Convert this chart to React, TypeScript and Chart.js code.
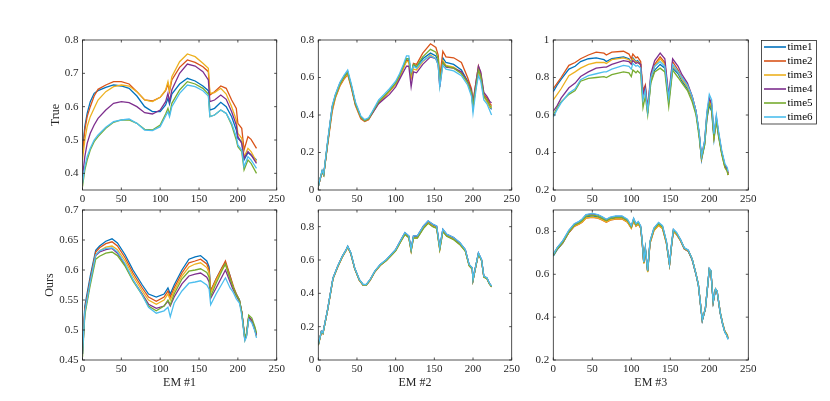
import { useEffect, useRef } from 'react';
import Chart from 'chart.js/auto';

// legend names and MATLAB default line colours
const seriesNames = ['time1', 'time2', 'time3', 'time4', 'time5', 'time6'];
const seriesColors = ['#0072BD', '#D95319', '#EDB120', '#7E2F8E', '#77AC30', '#4DBEEE'];

const xTicks = [0, 50, 100, 150, 200, 250];

// ---- EM #1, True ----
const em1TrueBands = [0, 3, 6, 10, 15, 20, 30, 40, 50, 60, 70, 80, 90, 100, 107, 110, 112, 115, 125, 135, 145, 155, 162, 164, 170, 178, 185, 192, 198, 200, 205, 208, 213, 217, 224];
const em1TrueT1 = [0.47, 0.54, 0.58, 0.615, 0.64, 0.648, 0.658, 0.665, 0.662, 0.655, 0.632, 0.6, 0.585, 0.585, 0.605, 0.625, 0.608, 0.638, 0.668, 0.685, 0.677, 0.662, 0.648, 0.59, 0.595, 0.613, 0.6, 0.57, 0.53, 0.505, 0.495, 0.44, 0.462, 0.455, 0.44];
const em1TrueT2 = [0.46, 0.53, 0.57, 0.6, 0.632, 0.652, 0.665, 0.675, 0.675, 0.668, 0.645, 0.62, 0.617, 0.628, 0.648, 0.668, 0.645, 0.68, 0.718, 0.74, 0.733, 0.72, 0.705, 0.635, 0.645, 0.662, 0.655, 0.62, 0.595, 0.55, 0.535, 0.47, 0.51, 0.502, 0.475];
const em1TrueT3 = [0.44, 0.5, 0.54, 0.57, 0.595, 0.62, 0.645, 0.66, 0.665, 0.662, 0.645, 0.62, 0.615, 0.628, 0.65, 0.675, 0.65, 0.69, 0.735, 0.758, 0.75, 0.73, 0.715, 0.64, 0.642, 0.655, 0.638, 0.6, 0.56, 0.52, 0.505, 0.45, 0.475, 0.465, 0.435];
const em1TrueT4 = [0.39, 0.45, 0.49, 0.52, 0.545, 0.565, 0.59, 0.61, 0.615, 0.612, 0.6, 0.582, 0.578, 0.59, 0.615, 0.64, 0.615, 0.65, 0.7, 0.728, 0.722, 0.705, 0.68, 0.615, 0.62, 0.635, 0.622, 0.585, 0.545, 0.51, 0.49, 0.445, 0.465, 0.455, 0.43];
const em1TrueT5 = [0.36, 0.41, 0.44, 0.47, 0.495, 0.51, 0.535, 0.553, 0.56, 0.56, 0.55, 0.532, 0.53, 0.545, 0.578, 0.595, 0.575, 0.61, 0.65, 0.675, 0.668, 0.655, 0.638, 0.57, 0.575, 0.59, 0.58, 0.545, 0.5, 0.48, 0.465, 0.41, 0.44, 0.43, 0.4];
const em1TrueT6 = [0.37, 0.42, 0.45, 0.475, 0.5, 0.515, 0.538, 0.555, 0.56, 0.563, 0.55, 0.53, 0.528, 0.54, 0.572, 0.585, 0.57, 0.6, 0.64, 0.665, 0.66, 0.648, 0.632, 0.57, 0.575, 0.59, 0.58, 0.55, 0.51, 0.485, 0.47, 0.42, 0.45, 0.44, 0.415];
const em1TrueTicks = [0.4, 0.5, 0.6, 0.7, 0.8];

// ---- EM #2, True ----
const em2TrueBands = [0, 3, 5, 7, 12, 18, 22, 28, 33, 38, 43, 48, 55, 60, 65, 70, 78, 85, 92, 100, 105, 110, 114, 117, 120, 123, 127, 135, 145, 152, 155, 157, 161, 165, 175, 185, 193, 198, 200, 204, 207, 210, 214, 218, 222, 224];
const em2TrueT1 = [0.02, 0.07, 0.1, 0.08, 0.25, 0.44, 0.5, 0.565, 0.6, 0.628, 0.55, 0.46, 0.39, 0.37, 0.38, 0.415, 0.47, 0.5, 0.53, 0.57, 0.61, 0.66, 0.7, 0.7, 0.61, 0.67, 0.655, 0.7, 0.73, 0.715, 0.68, 0.57, 0.705, 0.68, 0.67, 0.64, 0.58, 0.52, 0.44, 0.56, 0.63, 0.6, 0.5, 0.475, 0.44, 0.43];
const em2TrueT2 = [0.02, 0.065, 0.095, 0.08, 0.24, 0.42, 0.49, 0.555, 0.59, 0.615, 0.54, 0.45, 0.38, 0.365, 0.375, 0.41, 0.465, 0.495, 0.525, 0.565, 0.6, 0.65, 0.69, 0.69, 0.6, 0.675, 0.67, 0.73, 0.78, 0.76, 0.72, 0.6, 0.74, 0.71, 0.705, 0.68, 0.6, 0.54, 0.47, 0.58, 0.66, 0.62, 0.51, 0.49, 0.46, 0.45];
const em2TrueT3 = [0.02, 0.068, 0.1, 0.08, 0.245, 0.43, 0.495, 0.56, 0.595, 0.62, 0.545, 0.455, 0.385, 0.368, 0.378, 0.412, 0.468, 0.498, 0.528, 0.565, 0.6, 0.65, 0.685, 0.685, 0.6, 0.645, 0.64, 0.685, 0.72, 0.7, 0.67, 0.56, 0.69, 0.665, 0.655, 0.625, 0.57, 0.51, 0.44, 0.55, 0.63, 0.6, 0.5, 0.47, 0.44, 0.44];
const em2TrueT4 = [0.02, 0.07, 0.1, 0.085, 0.25, 0.445, 0.505, 0.57, 0.605, 0.63, 0.55, 0.46, 0.39, 0.37, 0.38, 0.41, 0.46, 0.485, 0.51, 0.55, 0.59, 0.63, 0.66, 0.66, 0.55, 0.63, 0.625, 0.67, 0.71, 0.7, 0.67, 0.55, 0.68, 0.655, 0.65, 0.63, 0.58, 0.53, 0.46, 0.58, 0.66, 0.63, 0.52, 0.5, 0.47, 0.465];
const em2TrueT5 = [0.02, 0.07, 0.1, 0.08, 0.25, 0.44, 0.5, 0.565, 0.6, 0.628, 0.55, 0.46, 0.39, 0.37, 0.38, 0.415, 0.47, 0.5, 0.53, 0.57, 0.61, 0.66, 0.7, 0.7, 0.62, 0.67, 0.66, 0.71, 0.75, 0.735, 0.7, 0.58, 0.68, 0.66, 0.65, 0.62, 0.575, 0.52, 0.45, 0.56, 0.64, 0.61, 0.5, 0.48, 0.45, 0.44];
const em2TrueT6 = [0.02, 0.072, 0.105, 0.085, 0.26, 0.45, 0.51, 0.575, 0.61, 0.64, 0.56, 0.47, 0.395, 0.375, 0.385, 0.42, 0.48, 0.51, 0.54, 0.58, 0.62, 0.67, 0.715, 0.715, 0.63, 0.66, 0.65, 0.69, 0.715, 0.7, 0.665, 0.55, 0.665, 0.645, 0.635, 0.61, 0.56, 0.5, 0.41, 0.54, 0.61, 0.58, 0.48, 0.46, 0.42, 0.4];
const em2TrueTicks = [0, 0.2, 0.4, 0.6, 0.8];

// ---- EM #3, True ----
const em3TrueBands = [0, 5, 10, 20, 28, 35, 45, 55, 65, 68, 75, 90, 97, 100, 102, 106, 108, 112, 115, 118, 121, 125, 130, 137, 143, 148, 153, 160, 165, 172, 178, 183, 187, 190, 194, 197, 200, 203, 206, 209, 212, 216, 220, 223, 224];
const em3TrueT1 = [0.725, 0.76, 0.79, 0.845, 0.86, 0.885, 0.9, 0.905, 0.895, 0.885, 0.9, 0.91, 0.9, 0.88, 0.905, 0.885, 0.89, 0.87, 0.71, 0.74, 0.61, 0.78, 0.84, 0.87, 0.85, 0.67, 0.85, 0.82, 0.78, 0.74, 0.69, 0.61, 0.5, 0.36, 0.44, 0.58, 0.65, 0.62, 0.47, 0.57, 0.49, 0.4, 0.33, 0.31, 0.28];
const em3TrueT2 = [0.74, 0.77, 0.8, 0.865, 0.88, 0.9, 0.92, 0.935, 0.93, 0.92, 0.935, 0.94, 0.925, 0.9, 0.925, 0.905, 0.91, 0.885, 0.73, 0.76, 0.63, 0.8, 0.87, 0.91, 0.88, 0.69, 0.885, 0.84, 0.8, 0.76, 0.7, 0.62, 0.5, 0.37, 0.45, 0.6, 0.68, 0.65, 0.49, 0.58, 0.5, 0.4, 0.33, 0.31, 0.28];
const em3TrueT3 = [0.68, 0.71, 0.74, 0.81, 0.83, 0.85, 0.87, 0.88, 0.88, 0.875, 0.895, 0.905, 0.895, 0.875, 0.9, 0.88, 0.885, 0.865, 0.7, 0.74, 0.61, 0.79, 0.86, 0.9, 0.87, 0.68, 0.86, 0.83, 0.79, 0.75, 0.69, 0.61, 0.5, 0.37, 0.45, 0.6, 0.67, 0.64, 0.48, 0.57, 0.49, 0.39, 0.32, 0.3, 0.28];
const em3TrueT4 = [0.62, 0.65, 0.69, 0.745, 0.77, 0.805, 0.83, 0.85, 0.855, 0.855, 0.87, 0.89, 0.885, 0.87, 0.89, 0.875, 0.88, 0.87, 0.71, 0.75, 0.63, 0.82, 0.89, 0.93, 0.9, 0.7, 0.9, 0.86, 0.815, 0.77, 0.7, 0.62, 0.5, 0.38, 0.46, 0.61, 0.69, 0.66, 0.49, 0.59, 0.5, 0.4, 0.33, 0.31, 0.29];
const em3TrueT5 = [0.6, 0.64, 0.67, 0.71, 0.73, 0.78, 0.795, 0.8, 0.805, 0.8, 0.815, 0.83, 0.825, 0.805, 0.84, 0.825, 0.835, 0.82, 0.64, 0.7, 0.6, 0.77, 0.83, 0.85, 0.83, 0.645, 0.84, 0.8, 0.77, 0.73, 0.67, 0.6, 0.48, 0.37, 0.44, 0.59, 0.66, 0.63, 0.48, 0.57, 0.48, 0.39, 0.32, 0.3, 0.28];
const em3TrueT6 = [0.59, 0.63, 0.665, 0.717, 0.74, 0.788, 0.81, 0.82, 0.83, 0.83, 0.845, 0.865, 0.86, 0.845, 0.875, 0.86, 0.865, 0.85, 0.68, 0.73, 0.62, 0.8, 0.86, 0.885, 0.86, 0.69, 0.87, 0.83, 0.8, 0.76, 0.7, 0.62, 0.51, 0.38, 0.46, 0.62, 0.71, 0.68, 0.5, 0.6, 0.51, 0.41, 0.34, 0.32, 0.3];
const em3TrueTicks = [0.2, 0.4, 0.6, 0.8, 1];

// ---- EM #1, Ours ----
const em1OursBands = [0, 3, 10, 17, 22, 30, 38, 45, 55, 65, 77, 85, 95, 105, 110, 113, 118, 128, 137, 145, 152, 160, 163, 165, 172, 180, 184, 190, 193, 195, 198, 202, 205, 209, 211, 214, 218, 222, 224];
const em1OursT1 = [0.47, 0.54, 0.59, 0.633, 0.64, 0.648, 0.652, 0.645, 0.625, 0.6, 0.575, 0.56, 0.555, 0.56, 0.57, 0.56, 0.575, 0.6, 0.618, 0.622, 0.624, 0.615, 0.605, 0.565, 0.585, 0.605, 0.612, 0.59, 0.575, 0.568, 0.56, 0.55, 0.53, 0.484, 0.49, 0.522, 0.515, 0.5, 0.49];
const em1OursT2 = [0.465, 0.535, 0.585, 0.63, 0.637, 0.644, 0.647, 0.64, 0.62, 0.595, 0.57, 0.555, 0.548, 0.555, 0.565, 0.555, 0.57, 0.595, 0.612, 0.615, 0.618, 0.61, 0.6, 0.565, 0.585, 0.605, 0.615, 0.59, 0.578, 0.57, 0.56, 0.55, 0.53, 0.485, 0.49, 0.52, 0.514, 0.5, 0.49];
const em1OursT3 = [0.46, 0.53, 0.58, 0.625, 0.632, 0.638, 0.64, 0.634, 0.615, 0.59, 0.565, 0.55, 0.543, 0.55, 0.56, 0.55, 0.565, 0.59, 0.605, 0.61, 0.612, 0.604, 0.595, 0.562, 0.583, 0.602, 0.61, 0.585, 0.575, 0.565, 0.557, 0.548, 0.528, 0.483, 0.49, 0.52, 0.515, 0.5, 0.49];
const em1OursT4 = [0.46, 0.53, 0.58, 0.624, 0.63, 0.634, 0.636, 0.628, 0.608, 0.583, 0.56, 0.543, 0.536, 0.54, 0.548, 0.54, 0.555, 0.577, 0.59, 0.593, 0.595, 0.588, 0.58, 0.553, 0.57, 0.59, 0.6, 0.58, 0.57, 0.565, 0.557, 0.548, 0.53, 0.486, 0.492, 0.522, 0.516, 0.502, 0.492];
const em1OursT5 = [0.455, 0.525, 0.575, 0.618, 0.623, 0.628, 0.63, 0.624, 0.606, 0.582, 0.558, 0.54, 0.532, 0.54, 0.55, 0.542, 0.56, 0.585, 0.598, 0.6, 0.602, 0.596, 0.588, 0.556, 0.578, 0.6, 0.61, 0.585, 0.575, 0.568, 0.558, 0.55, 0.53, 0.488, 0.494, 0.525, 0.52, 0.505, 0.495];
const em1OursT6 = [0.46, 0.53, 0.58, 0.625, 0.632, 0.636, 0.637, 0.63, 0.61, 0.584, 0.558, 0.538, 0.528, 0.532, 0.538, 0.522, 0.545, 0.565, 0.578, 0.58, 0.582, 0.575, 0.568, 0.542, 0.56, 0.578, 0.587, 0.57, 0.565, 0.56, 0.552, 0.545, 0.525, 0.482, 0.488, 0.518, 0.512, 0.498, 0.487];
const em1OursTicks = [0.45, 0.5, 0.55, 0.6, 0.65, 0.7];

// ---- EM #2, Ours ----
const em2OursBands = [0, 4, 6, 12, 19, 25, 31, 36, 38, 42, 47, 53, 58, 62, 67, 73, 80, 88, 96, 100, 107, 112, 117, 120, 123, 128, 136, 142, 148, 153, 157, 161, 166, 175, 183, 190, 195, 199, 200, 203, 207, 211, 214, 218, 221, 224];
const em2OursT1 = [0.09, 0.17, 0.16, 0.3, 0.49, 0.56, 0.62, 0.66, 0.68, 0.64, 0.55, 0.48, 0.45, 0.45, 0.48, 0.53, 0.57, 0.6, 0.64, 0.66, 0.72, 0.762, 0.742, 0.662, 0.742, 0.742, 0.802, 0.832, 0.812, 0.8, 0.672, 0.782, 0.752, 0.732, 0.702, 0.66, 0.57, 0.55, 0.48, 0.55, 0.64, 0.6, 0.5, 0.49, 0.46, 0.44];
const em2OursT2 = [0.09, 0.168, 0.158, 0.298, 0.487, 0.557, 0.617, 0.657, 0.677, 0.637, 0.548, 0.478, 0.448, 0.448, 0.478, 0.528, 0.567, 0.597, 0.636, 0.656, 0.715, 0.755, 0.735, 0.655, 0.733, 0.733, 0.792, 0.822, 0.802, 0.792, 0.664, 0.772, 0.744, 0.724, 0.694, 0.655, 0.566, 0.546, 0.478, 0.548, 0.636, 0.597, 0.498, 0.488, 0.458, 0.438];
const em2OursT3 = [0.088, 0.168, 0.158, 0.298, 0.488, 0.558, 0.618, 0.658, 0.678, 0.638, 0.549, 0.479, 0.449, 0.449, 0.479, 0.529, 0.568, 0.598, 0.637, 0.657, 0.716, 0.756, 0.736, 0.656, 0.735, 0.735, 0.794, 0.824, 0.804, 0.794, 0.666, 0.774, 0.745, 0.725, 0.695, 0.656, 0.567, 0.547, 0.479, 0.549, 0.637, 0.598, 0.499, 0.489, 0.459, 0.44];
const em2OursT4 = [0.092, 0.172, 0.162, 0.302, 0.492, 0.562, 0.622, 0.662, 0.682, 0.642, 0.552, 0.482, 0.452, 0.452, 0.482, 0.532, 0.572, 0.602, 0.642, 0.662, 0.722, 0.763, 0.743, 0.663, 0.744, 0.744, 0.804, 0.834, 0.814, 0.803, 0.674, 0.784, 0.754, 0.734, 0.703, 0.662, 0.572, 0.552, 0.482, 0.552, 0.642, 0.602, 0.502, 0.492, 0.462, 0.442];
const em2OursT5 = [0.09, 0.17, 0.16, 0.3, 0.49, 0.56, 0.62, 0.66, 0.68, 0.64, 0.55, 0.48, 0.45, 0.45, 0.48, 0.53, 0.568, 0.597, 0.636, 0.655, 0.714, 0.754, 0.734, 0.654, 0.732, 0.732, 0.79, 0.82, 0.8, 0.79, 0.662, 0.77, 0.742, 0.722, 0.692, 0.654, 0.566, 0.546, 0.478, 0.548, 0.636, 0.597, 0.498, 0.488, 0.458, 0.438];
const em2OursT6 = [0.092, 0.172, 0.162, 0.302, 0.492, 0.562, 0.622, 0.662, 0.683, 0.643, 0.553, 0.483, 0.453, 0.453, 0.483, 0.533, 0.573, 0.603, 0.643, 0.663, 0.723, 0.765, 0.745, 0.665, 0.745, 0.745, 0.805, 0.835, 0.815, 0.805, 0.675, 0.785, 0.755, 0.735, 0.705, 0.663, 0.573, 0.553, 0.483, 0.553, 0.643, 0.603, 0.503, 0.493, 0.463, 0.443];
const em2OursTicks = [0, 0.2, 0.4, 0.6, 0.8];

// ---- EM #3, Ours ----
const em3OursBands = [0, 5, 12, 20, 27, 33, 37, 42, 50, 57, 63, 68, 73, 80, 88, 95, 100, 103, 106, 109, 112, 114, 116, 118, 121, 124, 129, 135, 140, 145, 149, 152, 154, 158, 163, 168, 173, 178, 183, 186, 189, 191, 195, 198, 200, 202, 205, 208, 210, 214, 217, 220, 222, 224];
const em3OursT1 = [0.685, 0.715, 0.745, 0.795, 0.827, 0.838, 0.848, 0.868, 0.873, 0.868, 0.857, 0.847, 0.857, 0.862, 0.862, 0.847, 0.818, 0.852, 0.828, 0.838, 0.818, 0.748, 0.653, 0.718, 0.613, 0.748, 0.808, 0.833, 0.818, 0.748, 0.645, 0.748, 0.803, 0.788, 0.758, 0.718, 0.708, 0.668, 0.598, 0.548, 0.448, 0.383, 0.438, 0.548, 0.623, 0.613, 0.468, 0.528, 0.518, 0.418, 0.368, 0.328, 0.318, 0.298];
const em3OursT2 = [0.69, 0.718, 0.746, 0.795, 0.824, 0.834, 0.843, 0.862, 0.866, 0.862, 0.853, 0.843, 0.853, 0.858, 0.858, 0.843, 0.815, 0.848, 0.825, 0.835, 0.815, 0.745, 0.652, 0.716, 0.612, 0.745, 0.804, 0.828, 0.814, 0.745, 0.644, 0.746, 0.8, 0.786, 0.757, 0.718, 0.708, 0.669, 0.6, 0.55, 0.45, 0.386, 0.44, 0.55, 0.624, 0.614, 0.47, 0.53, 0.52, 0.421, 0.372, 0.332, 0.322, 0.305];
const em3OursT3 = [0.695, 0.722, 0.75, 0.798, 0.826, 0.835, 0.844, 0.863, 0.867, 0.863, 0.854, 0.844, 0.854, 0.859, 0.859, 0.844, 0.815, 0.849, 0.826, 0.836, 0.816, 0.746, 0.65, 0.716, 0.61, 0.745, 0.804, 0.828, 0.814, 0.745, 0.642, 0.746, 0.8, 0.787, 0.758, 0.72, 0.71, 0.671, 0.602, 0.552, 0.452, 0.388, 0.442, 0.552, 0.624, 0.614, 0.472, 0.532, 0.522, 0.424, 0.375, 0.335, 0.325, 0.31];
const em3OursT4 = [0.692, 0.723, 0.754, 0.804, 0.834, 0.845, 0.856, 0.877, 0.882, 0.877, 0.866, 0.855, 0.865, 0.87, 0.87, 0.855, 0.824, 0.86, 0.834, 0.844, 0.824, 0.753, 0.657, 0.723, 0.617, 0.753, 0.814, 0.84, 0.825, 0.753, 0.647, 0.753, 0.808, 0.793, 0.762, 0.722, 0.712, 0.671, 0.601, 0.551, 0.451, 0.386, 0.441, 0.551, 0.626, 0.616, 0.471, 0.531, 0.521, 0.421, 0.371, 0.331, 0.321, 0.301];
const em3OursT5 = [0.688, 0.718, 0.748, 0.798, 0.829, 0.84, 0.851, 0.871, 0.876, 0.871, 0.861, 0.851, 0.861, 0.866, 0.866, 0.851, 0.821, 0.856, 0.831, 0.841, 0.821, 0.751, 0.655, 0.721, 0.615, 0.751, 0.811, 0.836, 0.821, 0.751, 0.645, 0.751, 0.806, 0.791, 0.761, 0.721, 0.711, 0.671, 0.601, 0.551, 0.451, 0.386, 0.441, 0.551, 0.625, 0.615, 0.471, 0.531, 0.521, 0.421, 0.371, 0.331, 0.321, 0.303];
const em3OursT6 = [0.693, 0.724, 0.756, 0.806, 0.836, 0.847, 0.858, 0.879, 0.884, 0.879, 0.868, 0.857, 0.867, 0.872, 0.872, 0.857, 0.826, 0.862, 0.836, 0.846, 0.826, 0.755, 0.658, 0.725, 0.618, 0.755, 0.816, 0.842, 0.827, 0.755, 0.648, 0.755, 0.81, 0.795, 0.763, 0.723, 0.713, 0.672, 0.602, 0.552, 0.452, 0.387, 0.442, 0.552, 0.628, 0.618, 0.472, 0.532, 0.522, 0.422, 0.37, 0.329, 0.318, 0.296];
const em3OursTicks = [0.2, 0.4, 0.6, 0.8];

const W = 830;
const H = 401;
const INK = '#262626';
const FONT = '"Liberation Serif", "Times New Roman", serif';

// plot boxes in page pixels
const panels = [
  { bands: em1TrueBands, series: [em1TrueT1, em1TrueT2, em1TrueT3, em1TrueT4, em1TrueT5, em1TrueT6], ticks: em1TrueTicks, yMin: 0.35, yMax: 0.8, yTitle: 'True', xTitle: '', left: 82.5, top: 40, right: 276.7, bottom: 190, axisW: 34.2 },
  { bands: em2TrueBands, series: [em2TrueT1, em2TrueT2, em2TrueT3, em2TrueT4, em2TrueT5, em2TrueT6], ticks: em2TrueTicks, yMin: 0, yMax: 0.8, yTitle: '', xTitle: '', left: 318.3, top: 40, right: 511.7, bottom: 190, axisW: 40 },
  { bands: em3TrueBands, series: [em3TrueT1, em3TrueT2, em3TrueT3, em3TrueT4, em3TrueT5, em3TrueT6], ticks: em3TrueTicks, yMin: 0.2, yMax: 1, yTitle: '', xTitle: '', left: 553.3, top: 40, right: 748.3, bottom: 190, axisW: 40, legend: true },
  { bands: em1OursBands, series: [em1OursT1, em1OursT2, em1OursT3, em1OursT4, em1OursT5, em1OursT6], ticks: em1OursTicks, yMin: 0.45, yMax: 0.7, yTitle: 'Ours', xTitle: 'EM #1', left: 82.5, top: 210, right: 276.7, bottom: 360, axisW: 39.7 },
  { bands: em2OursBands, series: [em2OursT1, em2OursT2, em2OursT3, em2OursT4, em2OursT5, em2OursT6], ticks: em2OursTicks, yMin: 0, yMax: 0.9, yTitle: '', xTitle: 'EM #2', left: 318.3, top: 210, right: 511.7, bottom: 360, axisW: 40 },
  { bands: em3OursBands, series: [em3OursT1, em3OursT2, em3OursT3, em3OursT4, em3OursT5, em3OursT6], ticks: em3OursTicks, yMin: 0.2, yMax: 0.9, yTitle: '', xTitle: 'EM #3', left: 553.3, top: 210, right: 748.3, bottom: 360, axisW: 40 },
];

// MATLAB-style box with inward ticks on all four sides
const axesBox = {
  id: 'axesBox',
  afterDatasetsDraw(chart) {
    const { ctx, chartArea: a, scales } = chart;
    const tl = 2.5;
    ctx.save();
    ctx.strokeStyle = INK;
    ctx.lineWidth = 0.8;
    ctx.strokeRect(a.left, a.top, a.right - a.left, a.bottom - a.top);
    ctx.beginPath();
    scales.x.ticks.forEach((t) => {
      const px = scales.x.getPixelForValue(t.value);
      ctx.moveTo(px, a.bottom); ctx.lineTo(px, a.bottom - tl);
      ctx.moveTo(px, a.top); ctx.lineTo(px, a.top + tl);
    });
    scales.y.ticks.forEach((t) => {
      const py = scales.y.getPixelForValue(t.value);
      ctx.moveTo(a.left, py); ctx.lineTo(a.left + tl, py);
      ctx.moveTo(a.right, py); ctx.lineTo(a.right - tl, py);
    });
    ctx.stroke();
    ctx.restore();
  },
};

const legendBox = {
  id: 'legendBox',
  afterDraw(chart, args, opts) {
    if (!opts || !opts.show) return;
    const { ctx } = chart;
    const x0 = 761.5, y0 = 40.5, x1 = 816.5, y1 = 124;
    ctx.save();
    ctx.fillStyle = '#ffffff';
    ctx.fillRect(x0, y0, x1 - x0, y1 - y0);
    ctx.strokeStyle = INK;
    ctx.lineWidth = 0.8;
    ctx.strokeRect(x0, y0, x1 - x0, y1 - y0);
    ctx.font = `11px ${FONT}`;
    ctx.textBaseline = 'middle';
    ctx.textAlign = 'left';
    chart.data.datasets.forEach((ds, i) => {
      const cy = 47 + i * 14;
      ctx.strokeStyle = ds.borderColor;
      ctx.lineWidth = 1.6;
      ctx.beginPath();
      ctx.moveTo(764, cy);
      ctx.lineTo(786, cy);
      ctx.stroke();
      ctx.fillStyle = '#000000';
      ctx.fillText(ds.label, 787.5, cy + 0.5);
    });
    ctx.restore();
  },
};

function Panel({ p }) {
  const canvasRef = useRef(null);
  const chartRef = useRef(null);

  useEffect(() => {
    if (!canvasRef.current) return;
    if (chartRef.current) chartRef.current.destroy();
    const ctx = canvasRef.current.getContext('2d');
    const xAxisH = 30;

    chartRef.current = new Chart(ctx, {
      type: 'line',
      data: {
        datasets: p.series.map((vals, i) => ({
          label: seriesNames[i],
          data: p.bands.map((b, j) => ({ x: b, y: vals[j] })),
          borderColor: seriesColors[i],
          backgroundColor: seriesColors[i],
          borderWidth: 1.3,
          pointRadius: 0,
          tension: 0,
          fill: false,
          order: 6 - i,
        })),
      },
      options: {
        responsive: false,
        animation: false,
        events: [],
        layout: {
          padding: {
            left: p.left - p.axisW,
            top: p.top,
            right: W - p.right,
            bottom: H - p.bottom - xAxisH,
          },
        },
        plugins: {
          legend: { display: false },
          tooltip: { enabled: false },
          legendBox: { show: !!p.legend },
        },
        scales: {
          x: {
            type: 'linear',
            min: 0,
            max: 250,
            grid: { display: false, drawTicks: false },
            border: { display: false },
            afterBuildTicks: (s) => { s.ticks = xTicks.map((v) => ({ value: v })); },
            afterFit: (s) => { s.height = xAxisH; },
            ticks: { color: INK, font: { family: FONT, size: 11 }, padding: 3, maxRotation: 0, autoSkip: false },
            title: { display: !!p.xTitle, text: p.xTitle, color: INK, font: { family: FONT, size: 12 }, padding: 0 },
          },
          y: {
            type: 'linear',
            min: p.yMin,
            max: p.yMax,
            grid: { display: false, drawTicks: false },
            border: { display: false },
            afterBuildTicks: (s) => { s.ticks = p.ticks.map((v) => ({ value: v })); },
            afterFit: (s) => { s.width = p.axisW; },
            ticks: {
              color: INK,
              font: { family: FONT, size: 11 },
              padding: 4,
              autoSkip: false,
              callback: (v) => String(Number(Number(v).toFixed(2))),
            },
            title: { display: !!p.yTitle, text: p.yTitle, color: INK, font: { family: FONT, size: 12 }, padding: 0 },
          },
        },
      },
      plugins: [axesBox, legendBox],
    });

    return () => {
      if (chartRef.current) {
        chartRef.current.destroy();
        chartRef.current = null;
      }
    };
  }, [p]);

  return (
    <canvas
      ref={canvasRef}
      width={W}
      height={H}
      style={{ position: 'absolute', left: 0, top: 0, width: W, height: H }}
    />
  );
}

const App = () => {
  return (
    <div style={{ position: 'absolute', left: 0, top: 0, width: W, height: H, background: '#ffffff' }}>
      {panels.map((p, i) => (
        <Panel key={i} p={p} />
      ))}
    </div>
  );
};

export default App;
